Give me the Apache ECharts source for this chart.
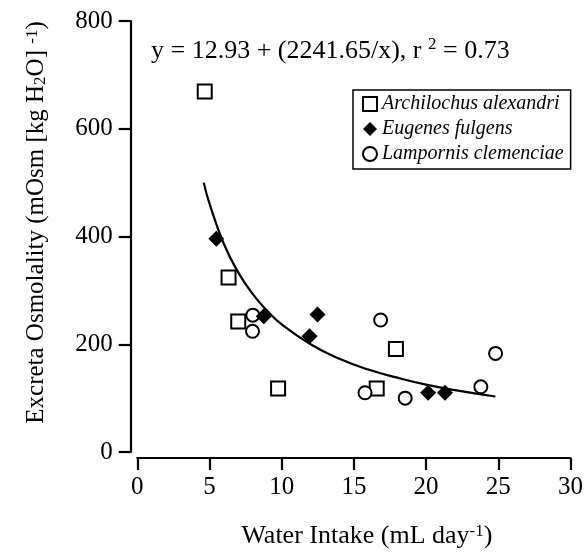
<!DOCTYPE html>
<html>
<head>
<meta charset="utf-8">
<script src="https://cdn.jsdelivr.net/npm/echarts@6/dist/echarts.min.js"></script>
<style>
html,body{margin:0;padding:0;background:#fff;}
#chart{width:586px;height:554px;}
</style>
</head>
<body>
<div id="chart"></div>
<script>
// Archilochus alexandri (open squares)
const archX = [4.67, 6.32, 6.99, 9.75, 16.58, 17.91];
const archY = [669, 324, 242, 118, 118, 191];
// Eugenes fulgens (filled diamonds)
const eugX = [5.47, 8.76, 11.93, 12.48, 20.14, 21.31];
const eugY = [396, 252, 215, 255, 110, 110];
// Lampornis clemenciae (open circles)
const lampX = [8.0, 7.98, 16.85, 15.77, 18.55, 23.79, 24.81];
const lampY = [254, 224, 245, 110, 100, 121, 183];
// fitted curve
const fitX = [4.6, 5, 6, 7, 8, 9, 10, 12, 14, 16, 18, 20, 22, 24.8];
const fitY = [500, 461, 386, 333, 293, 262, 237, 200, 173, 153, 138, 125, 115, 103];

const xTicks = [0, 5, 10, 15, 20, 25, 30];
const yTicks = [0, 200, 400, 600, 800];

const seriesNames = ['Archilochus alexandri', 'Eugenes fulgens', 'Lampornis clemenciae'];

function pairs(xs, ys) { return xs.map((x, i) => [x, ys[i]]); }

const FONT = '"Liberation Serif", "DejaVu Serif", serif';
const chart = echarts.init(document.getElementById('chart'), null, {renderer: 'canvas'});

const option = {
  backgroundColor: '#fff',
  animation: false,
  title: {
    left: 151,
    top: 36,
    padding: 0,
    text: 'y = 12.93 + (2241.65/x), r {sup|2} = 0.73',
    textStyle: {
      fontFamily: FONT, fontSize: 26, fontWeight: 'normal', color: '#000', lineHeight: 30,
      rich: {
        sup: {fontFamily: FONT, fontSize: 17, color: '#000', verticalAlign: 'top', lineHeight: 20}
      }
    }
  },
  legend: {
    data: seriesNames,
    orient: 'vertical',
    left: 353,
    top: 90,
    padding: [4, 7, 5, 9],
    itemGap: 5,
    itemWidth: 14,
    itemHeight: 14,
    borderColor: '#000',
    borderWidth: 1.5,
    borderRadius: 0,
    selectedMode: false,
    textStyle: {fontFamily: FONT, fontStyle: 'italic', fontSize: 20, color: '#000'}
  },
  grid: {left: 137.3, right: 13.7, top: 21, bottom: 100, containLabel: false},
  xAxis: {
    type: 'value',
    min: xTicks[0], max: xTicks[xTicks.length - 1], interval: 5,
    offset: 6,
    name: 'Water Intake (mL day{sup|-1})',
    nameLocation: 'middle',
    nameGap: 65,
    nameTextStyle: {
      fontFamily: FONT, fontSize: 26, color: '#000', padding: [0, 0, 0, 26],
      rich: {sup: {fontFamily: FONT, fontSize: 17, color: '#000', verticalAlign: 'top'}}
    },
    axisLine: {show: true, onZero: false, lineStyle: {color: '#000', width: 2.2}},
    axisTick: {show: true, inside: false, length: 12, lineStyle: {color: '#000', width: 2.2}},
    axisLabel: {fontFamily: FONT, fontSize: 25, color: '#000', margin: 17},
    splitLine: {show: false}
  },
  yAxis: {
    type: 'value',
    min: yTicks[0], max: yTicks[yTicks.length - 1], interval: 200,
    offset: 6.6,
    name: 'Excreta Osmolality (mOsm [kg H{sub|2}O] {sup|-1})',
    nameLocation: 'middle',
    nameRotate: 90,
    nameGap: 82,
    nameTextStyle: {
      fontFamily: FONT, fontSize: 25, color: '#000', padding: [0, 0, 0, 28],
      rich: {
        sup: {fontFamily: FONT, fontSize: 17, color: '#000', verticalAlign: 'top'},
        sub: {fontFamily: FONT, fontSize: 17, color: '#000', verticalAlign: 'bottom'}
      }
    },
    axisLine: {show: true, onZero: false, lineStyle: {color: '#000', width: 2.2}},
    axisTick: {show: true, inside: false, length: 12, lineStyle: {color: '#000', width: 2.2}},
    axisLabel: {fontFamily: FONT, fontSize: 25, color: '#000', margin: 18},
    splitLine: {show: false}
  },
  series: [
    {
      name: 'fit', type: 'line', data: pairs(fitX, fitY), smooth: true, showSymbol: false,
      symbol: 'none', lineStyle: {color: '#000', width: 2.2}, z: 1, silent: true
    },
    {
      name: seriesNames[0], type: 'scatter', data: pairs(archX, archY),
      symbol: 'rect', symbolSize: 14,
      itemStyle: {color: '#fff', borderColor: '#000', borderWidth: 2, opacity: 1}, z: 3
    },
    {
      name: seriesNames[1], type: 'scatter', data: pairs(eugX, eugY),
      symbol: 'diamond', symbolSize: 16,
      itemStyle: {color: '#000', borderColor: '#000', borderWidth: 0, opacity: 1}, z: 4
    },
    {
      name: seriesNames[2], type: 'scatter', data: pairs(lampX, lampY),
      symbol: 'circle', symbolSize: 13,
      itemStyle: {color: '#fff', borderColor: '#000', borderWidth: 2, opacity: 1}, z: 3
    }
  ]
};
chart.setOption(option);
</script>
</body>
</html>
